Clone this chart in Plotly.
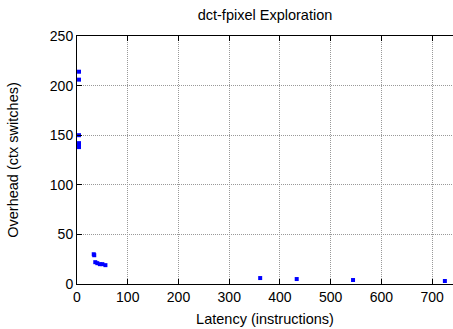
import plotly.graph_objects as go

latency = [4, 4, 4, 4, 4, 4, 33, 34, 36, 40, 45, 50, 56, 361, 433, 544, 725]
overhead = [214, 206, 150, 142, 140, 138, 30, 29, 22, 21, 20, 20, 19, 6, 5, 4, 3]

x_ticks = [0, 100, 200, 300, 400, 500, 600, 700]
y_ticks = [0, 50, 100, 150, 200, 250]

font = "Liberation Sans, Arial, sans-serif"

fig = go.Figure(go.Scatter(
    x=latency, y=overhead, mode="markers",
    marker=dict(symbol="square", size=4, color="#0000ff", line=dict(width=0)),
    cliponaxis=False,
))

fig.update_layout(
    width=453, height=329,
    margin=dict(l=77, r=0, t=36, b=45, autoexpand=False),
    paper_bgcolor="white", plot_bgcolor="white",
    showlegend=False,
    font=dict(family=font, size=14, color="black"),
    title=dict(text="dct-fpixel Exploration", xref="paper", x=0.5, xanchor="center",
               y=1 - 15 / 329, yanchor="middle", font=dict(size=14.5, family=font)),
)

fig.update_xaxes(
    range=[0, 741], tickvals=x_ticks, ticks="inside", ticklen=5, tickcolor="black",
    showline=True, linecolor="black", linewidth=1, mirror="ticks",
    showgrid=True, gridcolor="#999999", griddash="1px,1px", gridwidth=1,
    zeroline=False, automargin=False,
    title=dict(text="Latency (instructions)", font=dict(size=14.5), standoff=10),
)
fig.update_yaxes(
    range=[0, 250], tickvals=y_ticks, ticks="inside", ticklen=5, tickcolor="black",
    showline=True, linecolor="black", linewidth=1, mirror=False,
    showgrid=True, gridcolor="#999999", griddash="1px,1px", gridwidth=1,
    zeroline=False, automargin=False,
    title=dict(text="Overhead (ctx switches)", font=dict(size=14.5), standoff=27),
)

fig.write_html("out.html", config={"displayModeBar": False},
               post_script="document.body.style.margin='0';document.body.style.overflow='hidden';")
